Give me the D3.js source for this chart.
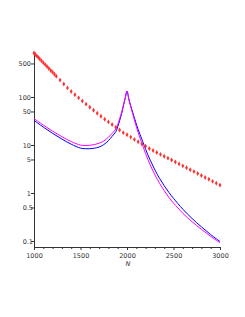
<!DOCTYPE html>
<html>
<head>
<meta charset="utf-8">
<script src="https://cdn.jsdelivr.net/npm/d3@7"></script>
<style>
  body { margin: 0; background: #fff; }
  .tick-label { font-family: "DejaVu Sans", sans-serif; font-size: 6.5px; fill: #333; }
</style>
</head>
<body>
<div class="chart"></div>
<script>
var svgWidth = 245;
var svgHeight = 317;

// red point series
var redN = [1000, 1015, 1030, 1045, 1060, 1080, 1100, 1120, 1140, 1160, 1180, 1200, 1220, 1240,
  1280, 1320, 1360, 1400, 1440, 1480, 1520, 1560, 1600, 1640, 1680, 1720, 1760,
  1800, 1840, 1880, 1920, 1960, 2000, 2040, 2080, 2120, 2160, 2200, 2240,
  2280, 2320, 2360, 2400, 2440, 2480, 2520, 2560, 2600, 2640, 2680, 2720,
  2760, 2800, 2840, 2880, 2920, 2960, 3000];
var redVal = [826, 771, 719, 670, 625, 570, 520, 473, 432, 394, 358, 327, 298, 271,
  225, 187, 155, 130, 111, 96, 82.5, 71, 61.4, 53.2, 46, 39.8, 34.5,
  30.3, 26.7, 23.4, 20.6, 18.1, 16.3, 14.6, 13.1, 11.7, 10.5, 9.4, 8.45,
  7.66, 6.98, 6.38, 5.83, 5.33, 4.86, 4.43, 4.04, 3.68, 3.36, 3.06, 2.79,
  2.54, 2.32, 2.11, 1.93, 1.75, 1.6, 1.46];

// line series
var curveN = [1000, 1100, 1200, 1300, 1400, 1500, 1550, 1600, 1650, 1700, 1750,
  1800, 1840, 1880, 1900, 1920, 1940, 1960, 1980, 2000, 2020, 2040, 2060,
  2080, 2100, 2120, 2140, 2160, 2200, 2250, 2300, 2350, 2400, 2450, 2500, 2600,
  2700, 2800, 2900, 3000];
var magentaVal = [35.5, 26.0, 19.4, 14.9, 11.8, 9.95, 9.77, 9.86, 10.2, 10.9, 12.1,
  14.5, 17.5, 21.5, 26.7, 34.7, 46.4, 66.5, 95.5, 132, 88.7, 62.5, 45.3,
  33.2, 24.3, 18.2, 14.0, 10.9, 6.62, 3.83, 2.39, 1.59, 1.12, 0.813, 0.617, 0.379,
  0.251, 0.175, 0.125, 0.0917];
var blueVal = [32.7, 23.6, 17.5, 13.3, 10.4, 8.61, 8.37, 8.37, 8.58, 9.08, 10.2,
  12.3, 15.2, 19.0, 23.9, 31.6, 43.2, 63.4, 93.1, 132, 90.8, 65.6, 48.7,
  36.5, 27.4, 21.0, 16.6, 13.2, 8.14, 4.82, 3.04, 2.02, 1.42, 1.03, 0.773, 0.461,
  0.294, 0.197, 0.136, 0.0976];

var xTicks = [1000, 1500, 2000, 2500, 3000];
var xMinor = [1100, 1200, 1300, 1400, 1600, 1700, 1800, 1900, 2100, 2200, 2300, 2400, 2600, 2700, 2800, 2900];
var yTicks = [0.1, 0.5, 1, 5, 10, 50, 100, 500];

var svg = d3.select(".chart")
  .append("svg")
  .attr("width", svgWidth)
  .attr("height", svgHeight);

var xScale = d3.scaleLinear()
  .domain([1000, 3000])
  .range([34, 220]);

var yScale = d3.scaleLog()
  .domain([0.075, 826])
  .range([247, 53]);

// axes
var bottomAxis = d3.axisBottom(xScale)
  .tickValues(xTicks)
  .tickSize(3)
  .tickFormat(d3.format("d"));

var xAxis = svg.append("g")
  .attr("transform", "translate(0, 247)")
  .call(bottomAxis);

xAxis.append("g").selectAll("line")
  .data(xMinor)
  .enter()
  .append("line")
  .attr("x1", d => xScale(d) + 0.5)
  .attr("x2", d => xScale(d) + 0.5)
  .attr("y1", 0)
  .attr("y2", 2)
  .attr("stroke", "#333");

var leftAxis = d3.axisLeft(yScale)
  .tickValues(yTicks)
  .tickSize(3)
  .tickFormat(d => String(d));

var yAxis = svg.append("g")
  .attr("transform", "translate(34, 0)")
  .call(leftAxis);

[xAxis, yAxis].forEach(function(ax) {
  ax.select(".domain").attr("stroke", "#333");
  ax.selectAll(".tick line").attr("stroke", "#333");
  ax.selectAll(".tick text")
    .attr("class", "tick-label")
    .attr("font-size", null)
    .attr("font-family", null)
    .attr("fill", null);
});
xAxis.select(".domain").attr("d", "M34,0.5H221");
yAxis.select(".domain").attr("d", "M0.5,52V247");
xAxis.selectAll(".tick text").attr("y", 6);
yAxis.selectAll(".tick text").attr("x", d => String(d).indexOf(".") >= 0 ? -1 : -3);

// x axis label
svg.append("text")
  .attr("x", 128)
  .attr("y", 266)
  .attr("text-anchor", "middle")
  .attr("font-family", "DejaVu Sans, sans-serif")
  .attr("font-style", "italic")
  .attr("font-size", "6.5px")
  .attr("fill", "#333")
  .text("N");

// lines
var line = d3.line()
  .x(d => xScale(d[0]))
  .y(d => yScale(d[1]))
  .curve(d3.curveCatmullRom.alpha(0.5));

svg.append("path")
  .datum(d3.zip(curveN, blueVal))
  .attr("fill", "none")
  .attr("stroke", "#0000ff")
  .attr("stroke-width", 1)
  .attr("d", line);

svg.append("path")
  .datum(d3.zip(curveN, magentaVal))
  .attr("fill", "none")
  .attr("stroke", "#ff00ff")
  .attr("stroke-width", 1)
  .attr("d", line);

// red points
svg.append("g").selectAll("path")
  .data(d3.zip(redN, redVal))
  .enter()
  .append("path")
  .attr("transform", d => `translate(${xScale(d[0])}, ${yScale(d[1])})`)
  .attr("d", d3.symbol().type(d3.symbolDiamond).size(7))
  .attr("fill", "#ff3030");
</script>
</body>
</html>
